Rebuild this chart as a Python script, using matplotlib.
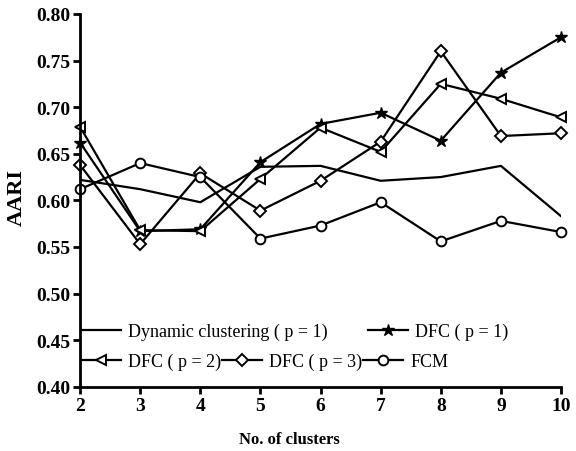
import matplotlib.pyplot as plt

plt.rcParams["font.family"] = ["Liberation Serif", "DejaVu Serif"]

clusters = [2, 3, 4, 5, 6, 7, 8, 9, 10]
dynamic = [0.622, 0.612, 0.598, 0.636, 0.637, 0.621, 0.625, 0.637, 0.583]
dfc_p1 = [0.662, 0.567, 0.569, 0.641, 0.682, 0.694, 0.664, 0.737, 0.775]
dfc_p2 = [0.679, 0.568, 0.567, 0.623, 0.678, 0.652, 0.725, 0.709, 0.689]
dfc_p3 = [0.638, 0.553, 0.629, 0.589, 0.621, 0.663, 0.760, 0.669, 0.672]
fcm = [0.612, 0.640, 0.625, 0.559, 0.573, 0.598, 0.556, 0.578, 0.566]

fig = plt.figure(figsize=(5.76, 4.52), dpi=100)
ax = fig.add_axes([0.139, 0.142, 0.835, 0.825])

lw = 1.6
ms = 7
ax.plot(clusters, dynamic, color="black", linewidth=lw, label="Dynamic clustering ( p = 1)")
ax.plot(clusters, dfc_p1, color="black", linewidth=lw, marker="*", markersize=ms + 2,
        markerfacecolor="black", clip_on=False, label="DFC ( p = 1)")
ax.plot(clusters, dfc_p2, color="black", linewidth=lw, marker="<", markersize=ms,
        markerfacecolor="white", markeredgewidth=1.4, clip_on=False, label="DFC ( p = 2)")
ax.plot(clusters, dfc_p3, color="black", linewidth=lw, marker="D", markersize=ms - 1,
        markerfacecolor="white", markeredgewidth=1.4, clip_on=False, label="DFC ( p = 3)")
ax.plot(clusters, fcm, color="black", linewidth=lw, marker="o", markersize=ms,
        markerfacecolor="white", markeredgewidth=1.4, clip_on=False, label="FCM")

ax.set_xlim(2, 10)
ax.set_ylim(0.40, 0.80)
ax.set_xticks(clusters)
ax.set_yticks([0.40, 0.45, 0.50, 0.55, 0.60, 0.65, 0.70, 0.75, 0.80])
ax.yaxis.set_major_formatter(plt.FuncFormatter(lambda v, _: f"{v:.2f}"))
ax.spines["top"].set_visible(False)
ax.spines["right"].set_visible(False)
for s in ["left", "bottom"]:
    ax.spines[s].set_linewidth(2)
ax.tick_params(direction="out", length=5, width=2, labelsize=14, pad=2)
for lab in ax.get_xticklabels() + ax.get_yticklabels():
    lab.set_fontweight("bold")
ax.set_xlabel("No. of clusters", fontsize=12, fontweight="bold")
ax.xaxis.set_label_coords(0.435, -0.118)
ax.set_ylabel("AARI", fontsize=16, fontweight="bold")
ax.yaxis.set_label_coords(-0.11, 0.51)

handles, labels = ax.get_legend_handles_labels()
leg1 = ax.legend([handles[0], handles[1]], [labels[0], labels[1]], ncol=2,
                 loc="center left", bbox_to_anchor=(-0.012, 0.148), frameon=False,
                 fontsize=13, handlelength=2.2, columnspacing=2.2, handletextpad=0.4,
                 borderaxespad=0)
ax.add_artist(leg1)
ax.legend([handles[2], handles[3], handles[4]], [labels[2], labels[3], labels[4]], ncol=3,
          loc="center left", bbox_to_anchor=(-0.012, 0.067), frameon=False,
          fontsize=13, handlelength=2.2, columnspacing=0.05, handletextpad=0.4,
          borderaxespad=0)

fig.savefig("out.png", dpi=100)
